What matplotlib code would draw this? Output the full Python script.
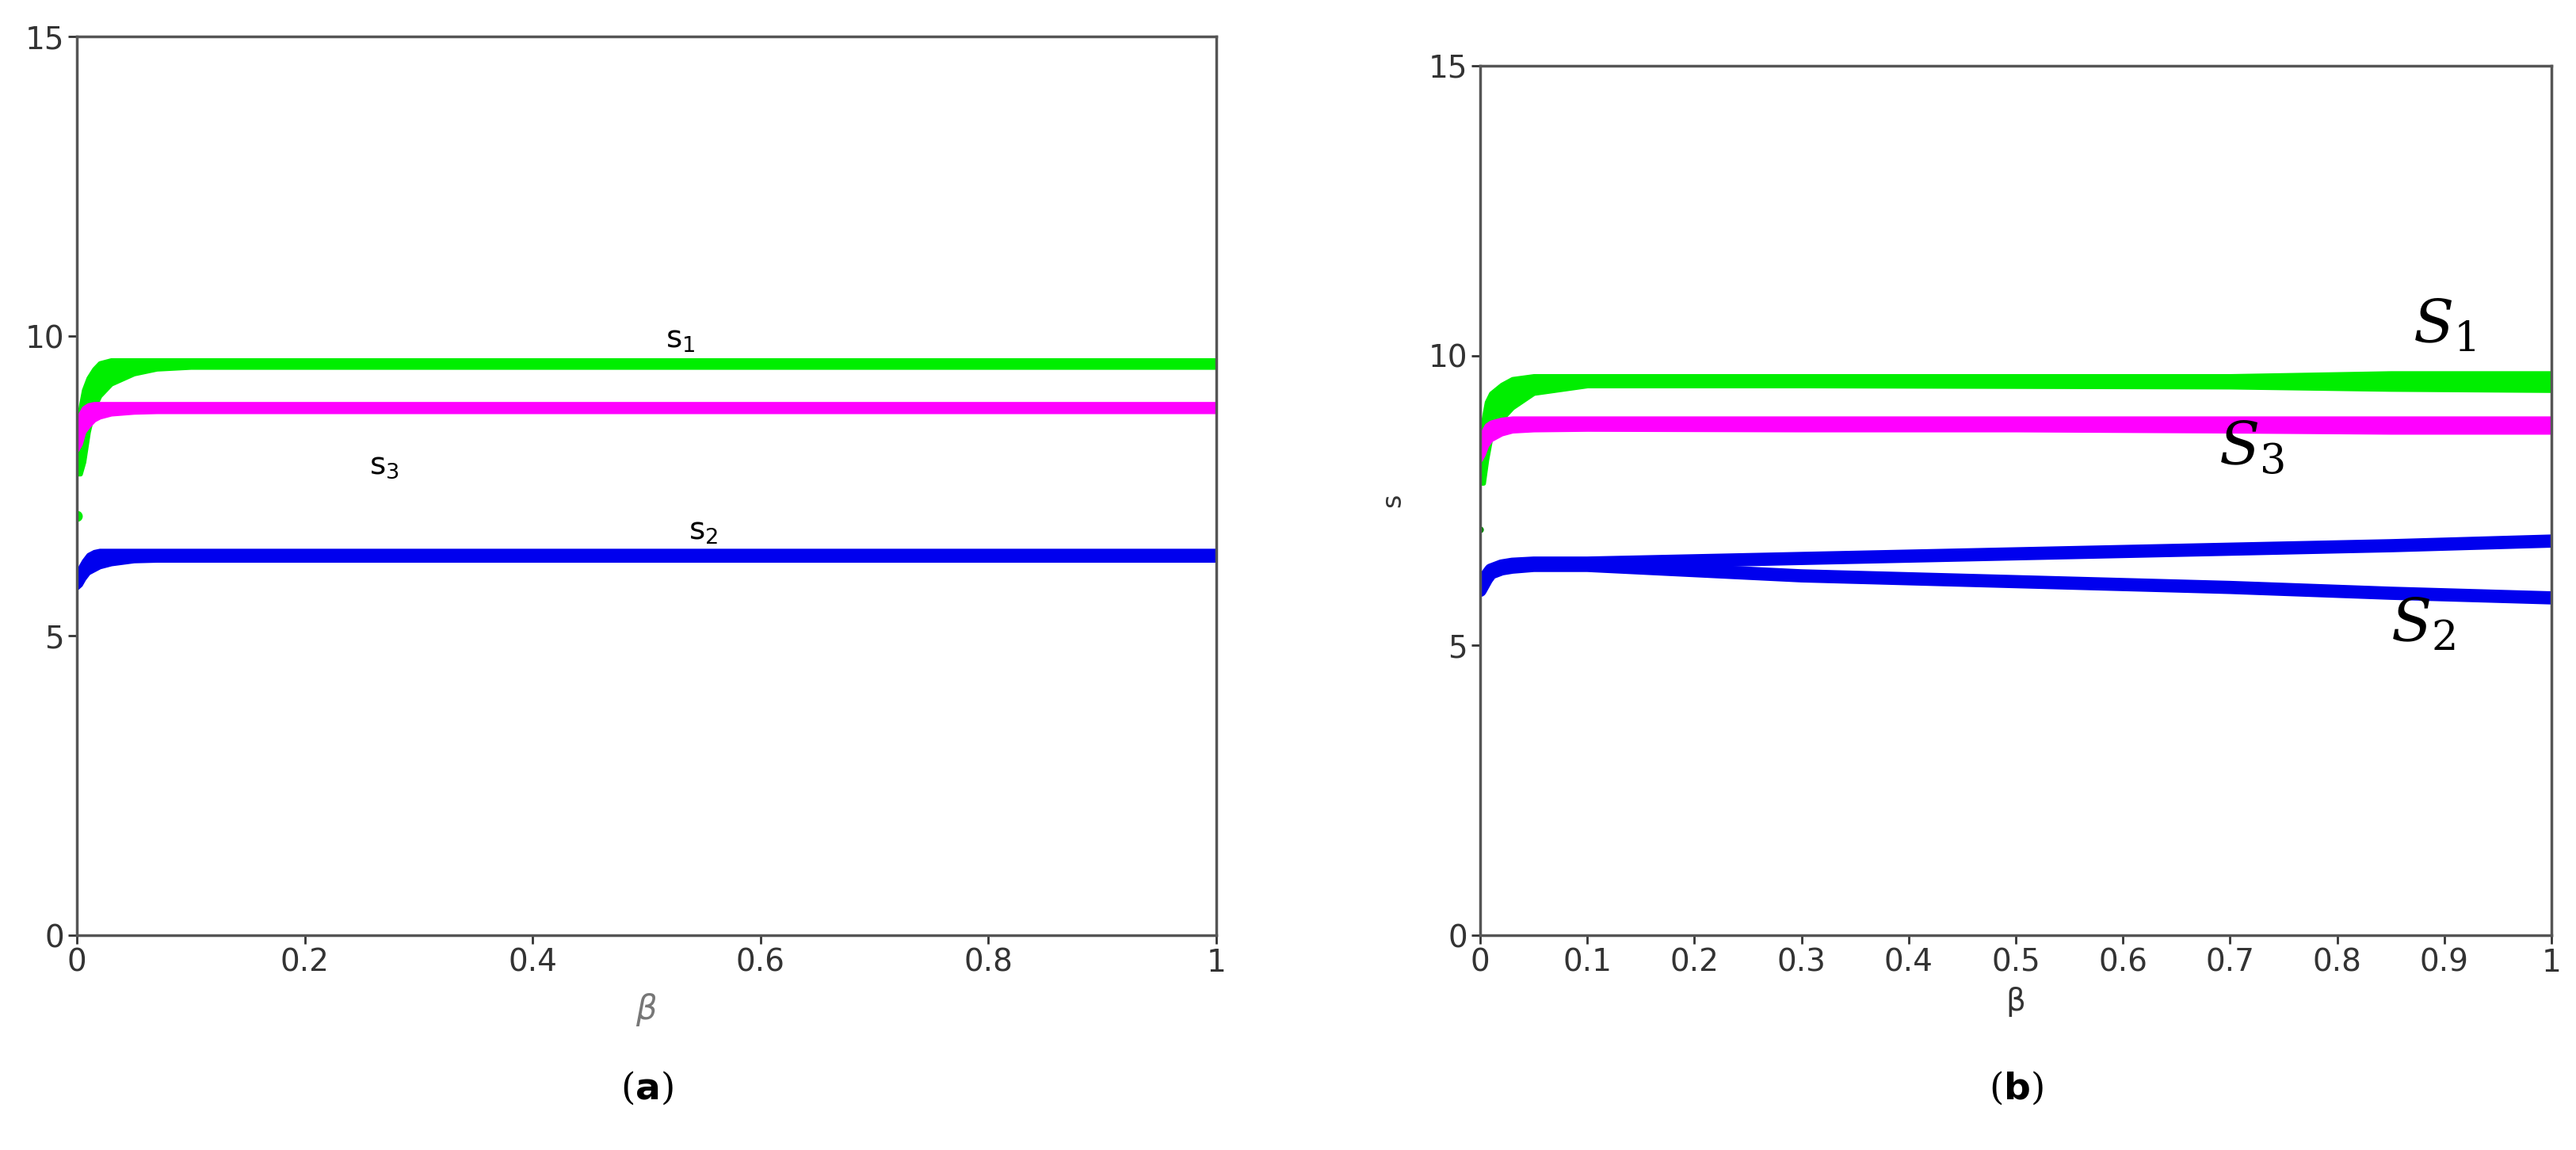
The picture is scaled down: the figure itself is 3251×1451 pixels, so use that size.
import numpy as np
import matplotlib.pyplot as plt

# panel (a): band envelopes
beta_a = [0.0, 0.003, 0.006, 0.01, 0.015, 0.02, 0.03, 0.05, 0.07, 0.1, 1.0]
s1_a_hi = [8.0, 8.8, 9.1, 9.3, 9.45, 9.55, 9.6, 9.6, 9.6, 9.6, 9.6]
s1_a_lo = [7.7, 7.7, 7.9, 8.4, 8.8, 9.0, 9.2, 9.37, 9.45, 9.48, 9.48]
s3_a_hi = [8.5, 8.7, 8.8, 8.85, 8.87, 8.87, 8.87, 8.87, 8.87, 8.87, 8.87]
s3_a_lo = [8.1, 8.2, 8.4, 8.5, 8.6, 8.65, 8.7, 8.73, 8.74, 8.74, 8.74]
s2_a_hi = [6.0, 6.15, 6.25, 6.35, 6.4, 6.42, 6.42, 6.42, 6.42, 6.42, 6.42]
s2_a_lo = [5.8, 5.85, 5.95, 6.05, 6.1, 6.15, 6.2, 6.25, 6.26, 6.26, 6.26]

# panel (b)
beta_b = [0.0, 0.003, 0.006, 0.01, 0.02, 0.03, 0.05, 0.1, 0.3, 0.5, 0.7, 0.85, 1.0]
s1_b_hi = [8.3, 8.9, 9.2, 9.35, 9.5, 9.6, 9.65, 9.65, 9.65, 9.65, 9.65, 9.7, 9.7]
s1_b_lo = [7.8, 7.8, 8.2, 8.6, 8.9, 9.1, 9.35, 9.48, 9.48, 9.47, 9.46, 9.42, 9.4]
s3_b_hi = [8.5, 8.7, 8.8, 8.85, 8.9, 8.92, 8.92, 8.92, 8.92, 8.92, 8.92, 8.92, 8.92]
s3_b_lo = [8.2, 8.3, 8.45, 8.55, 8.65, 8.7, 8.72, 8.73, 8.72, 8.72, 8.7, 8.68, 8.68]
s2u_b = [6.0, 6.1, 6.2, 6.3, 6.37, 6.4, 6.42, 6.42, 6.5, 6.58, 6.66, 6.72, 6.8]
s2l_b = [5.95, 6.05, 6.15, 6.25, 6.32, 6.35, 6.38, 6.38, 6.2, 6.1, 6.0, 5.9, 5.82]

fig = plt.figure(figsize=(32.51, 14.51), dpi=100)
W, H = 3251, 1451
axa = fig.add_axes([97 / W, 1 - 1180 / H, (1535 - 97) / W, (1180 - 46) / H])
axb = fig.add_axes([1868 / W, 1 - 1180 / H, (3220 - 1868) / W, (1180 - 83) / H])

green, magenta, blue = '#00ee00', '#ff00ff', '#0000ee'

for ax, b, bands in [
    (axa, beta_a, [(s1_a_lo, s1_a_hi, green), (s3_a_lo, s3_a_hi, magenta), (s2_a_lo, s2_a_hi, blue)]),
    (axb, beta_b, [(s1_b_lo, s1_b_hi, green), (s3_b_lo, s3_b_hi, magenta)]),
]:
    for lo, hi, c in bands:
        ax.fill_between(b, lo, hi, color=c, lw=4, edgecolor=c)

axb.plot(beta_b, s2u_b, color=blue, lw=12, solid_capstyle='round')
axb.plot(beta_b, s2l_b, color=blue, lw=12, solid_capstyle='round')
axa.plot([0.0], [7.0], 'o', color=green, ms=9)
axb.plot([0.0], [7.0], 'o', color='#008800', ms=5)

for ax in (axa, axb):
    ax.set_xlim(0, 1)
    ax.set_ylim(0, 15)
    ax.set_yticks([0, 5, 10, 15])
    ax.tick_params(labelsize=28, colors='#333333', length=8, width=2)
    for sp in ax.spines.values():
        sp.set_color('#555555')
        sp.set_linewidth(2.5)

axa.set_xticks([0, 0.2, 0.4, 0.6, 0.8, 1])
axa.set_xticklabels(['0', '0.2', '0.4', '0.6', '0.8', '1'])
axb.set_xticks(np.round(np.arange(0, 1.01, 0.1), 1))
axb.set_xticklabels(['0', '0.1', '0.2', '0.3', '0.4', '0.5', '0.6', '0.7', '0.8', '0.9', '1'])

axa.set_xlabel(r'$\beta$', fontsize=30, color='#777777', labelpad=12)
axb.set_xlabel('β', fontsize=28, color='#333333', labelpad=8)
axb.set_ylabel('s', fontsize=24, color='#333333', labelpad=20)

axa.text(0.53, 9.8, r'$\mathregular{s_1}$', fontsize=28, ha='center')
axa.text(0.27, 8.1, r'$\mathregular{s_3}$', fontsize=28, ha='center', va='top')
axa.text(0.55, 6.6, r'$\mathregular{s_2}$', fontsize=28, ha='center')

for txt, x, y in [(r'$S_1$', 0.9, 10.0), (r'$S_3$', 0.72, 7.9), (r'$S_2$', 0.88, 4.85)]:
    axb.text(x, y, txt, fontsize=54, ha='center', va='bottom', math_fontfamily='dejavuserif')

fig.text((97 + 1535) / 2 / W, 1 - 1373 / H, r'($\mathbf{a}$)', fontsize=34, ha='center', va='center',
         family='DejaVu Serif')
fig.text((1868 + 3220) / 2 / W, 1 - 1373 / H, r'($\mathbf{b}$)', fontsize=34, ha='center', va='center',
         family='DejaVu Serif')

fig.savefig('out.png', dpi=100)
